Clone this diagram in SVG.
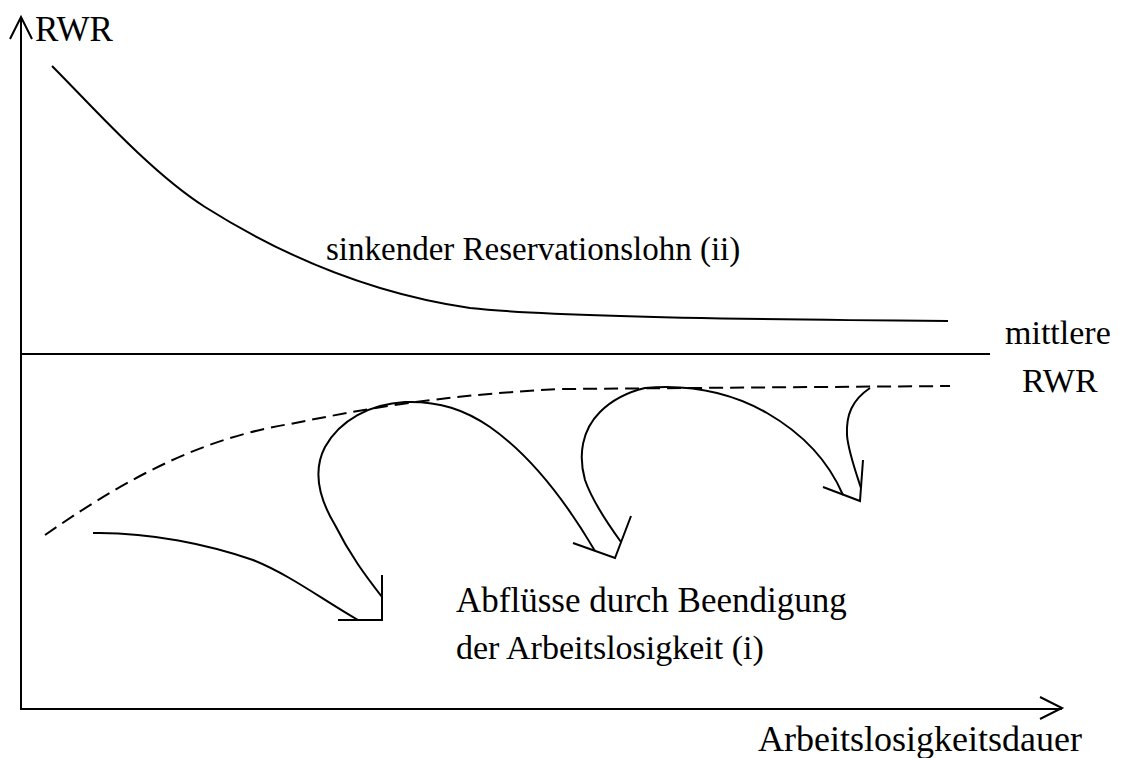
<svg xmlns="http://www.w3.org/2000/svg" width="1122" height="758" viewBox="0 0 1122 758">
<style>
.ln{fill:none;stroke:#000;stroke-width:2;stroke-linecap:butt;stroke-linejoin:miter}
.cv{fill:none;stroke:#000;stroke-width:2}
.ds{fill:none;stroke:#000;stroke-width:2;stroke-dasharray:14 7}
.tx{font-family:"Liberation Serif","Times New Roman",serif;font-size:34px;fill:#000}
</style>
<rect width="1122" height="758" fill="#fff"/>
<g id="axes">
<path class="ln" d="M21,17 L21,709 L1062,709"/>
<path class="ln" d="M10,39 L21,17 L32,39"/>
<path class="ln" d="M1040,697 L1062,708 L1040,719"/>
</g>
<g id="labels">
<text class="tx" x="35" y="41" style="font-size:35px">RWR</text>
<text class="tx" x="326" y="260" style="font-size:33px">sinkender Reservationslohn (ii)</text>
<text class="tx" x="1005" y="344">mittlere</text>
<text class="tx" x="1022" y="392">RWR</text>
<text class="tx" x="456" y="612" style="font-size:35px">Abflüsse durch Beendigung</text>
<text class="tx" x="456" y="659">der Arbeitslosigkeit (i)</text>
<text class="tx" x="758" y="751" style="font-size:36px">Arbeitslosigkeitsdauer</text>
</g>
<g id="curves">
<path id="reservation-wage" class="cv" d="M52,66 C90,104 150,172 205,207 C270,248 360,292 470,308 C560,318 800,320 948,321"/>
<line id="mean-rwr" class="ln" x1="21" y1="354" x2="990" y2="354"/>
<path id="dashed" class="ds" d="M45,535 C110,490 190,440 290,424 C360,410 430,396 560,389 L950,386"/>
</g>
<g id="connectors">
<path class="cv" d="M93,533 C150,532 210,545 253,560 C290,575 320,598 358,620"/>
<path class="ln" d="M338,620 L382,620 L382,575"/>
<path class="cv" d="M382,597 C365,575 350,555 335,525 C320,500 312,472 325,447 C340,420 370,404 405,402 C440,401 465,410 490,427 C530,455 565,500 595,551"/>
<path class="ln" d="M573,543 L615,558 L631,516"/>
<path class="cv" d="M621,542 C605,520 592,500 585,480 C578,455 582,430 600,412 C612,400 628,392 645,388 C690,384 730,392 767,413 C800,432 828,460 843,495"/>
<path class="ln" d="M823,487 L860,501 L863,460"/>
<path class="cv" d="M861,488 C855,470 848,450 847,435 C846,415 852,400 870,388"/>
</g>
</svg>
